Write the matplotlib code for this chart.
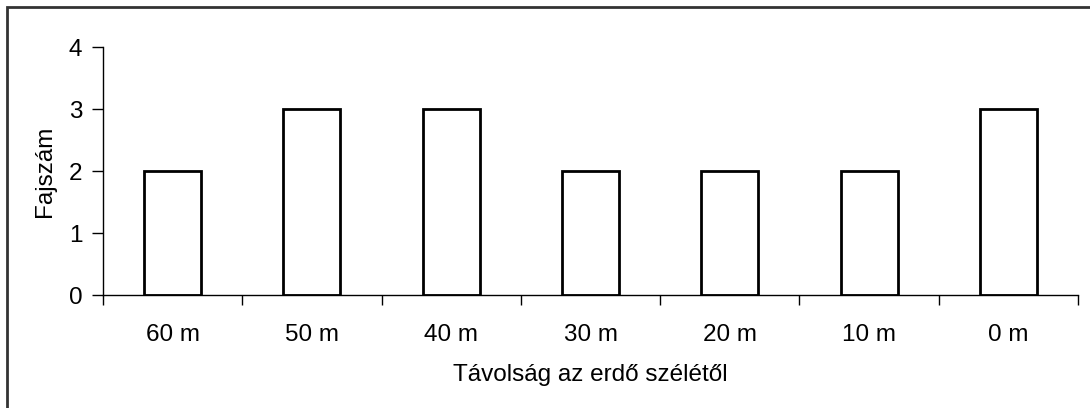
import matplotlib.pyplot as plt
from matplotlib.patches import Rectangle
import numpy as np

plt.rcParams['font.family'] = ['Liberation Sans', 'DejaVu Sans']

distances = ["60 m", "50 m", "40 m", "30 m", "20 m", "10 m", "0 m"]
species = [2, 3, 3, 2, 2, 2, 3]
yticks = [0, 1, 2, 3, 4]

fig = plt.figure(figsize=[10.9, 4.08], dpi=100)
ax = fig.add_axes([103 / 1090, 1 - 295 / 408, 975 / 1090, 248 / 408])

x = np.arange(len(distances))
ax.bar(x, species, width=0.41, color="white", edgecolor="black", linewidth=2)

ax.set_xlim(-0.5, len(distances) - 0.5)
ax.set_ylim(0, 4)
ax.set_yticks(yticks)
ax.set_xticks(x)
ax.set_xticklabels(distances)
# category boundaries get the tick marks, labels sit in between
ax.set_xticks(np.arange(len(distances) + 1) - 0.5, minor=True)
ax.tick_params(axis="x", which="major", length=0, pad=21, labelsize=17.5)
ax.tick_params(axis="x", which="minor", length=7, width=1, direction="out")
ax.tick_params(axis="y", length=8, width=1, pad=7, labelsize=17.5)

for side in ["top", "right"]:
    ax.spines[side].set_visible(False)
for side in ["left", "bottom"]:
    ax.spines[side].set_linewidth(1)

ax.set_ylabel("Fajszám", fontsize=17.5, labelpad=9)
ax.set_xlabel("Távolság az erdő szélétől", fontsize=17.5, labelpad=13)

# chart area border
fig.patches.append(Rectangle((7 / 1090, -0.1), 1.2, 1 - 7 / 408 + 0.1,
                             transform=fig.transFigure, fill=False,
                             edgecolor="#333333", linewidth=2))

fig.savefig("out.png", dpi=100)
